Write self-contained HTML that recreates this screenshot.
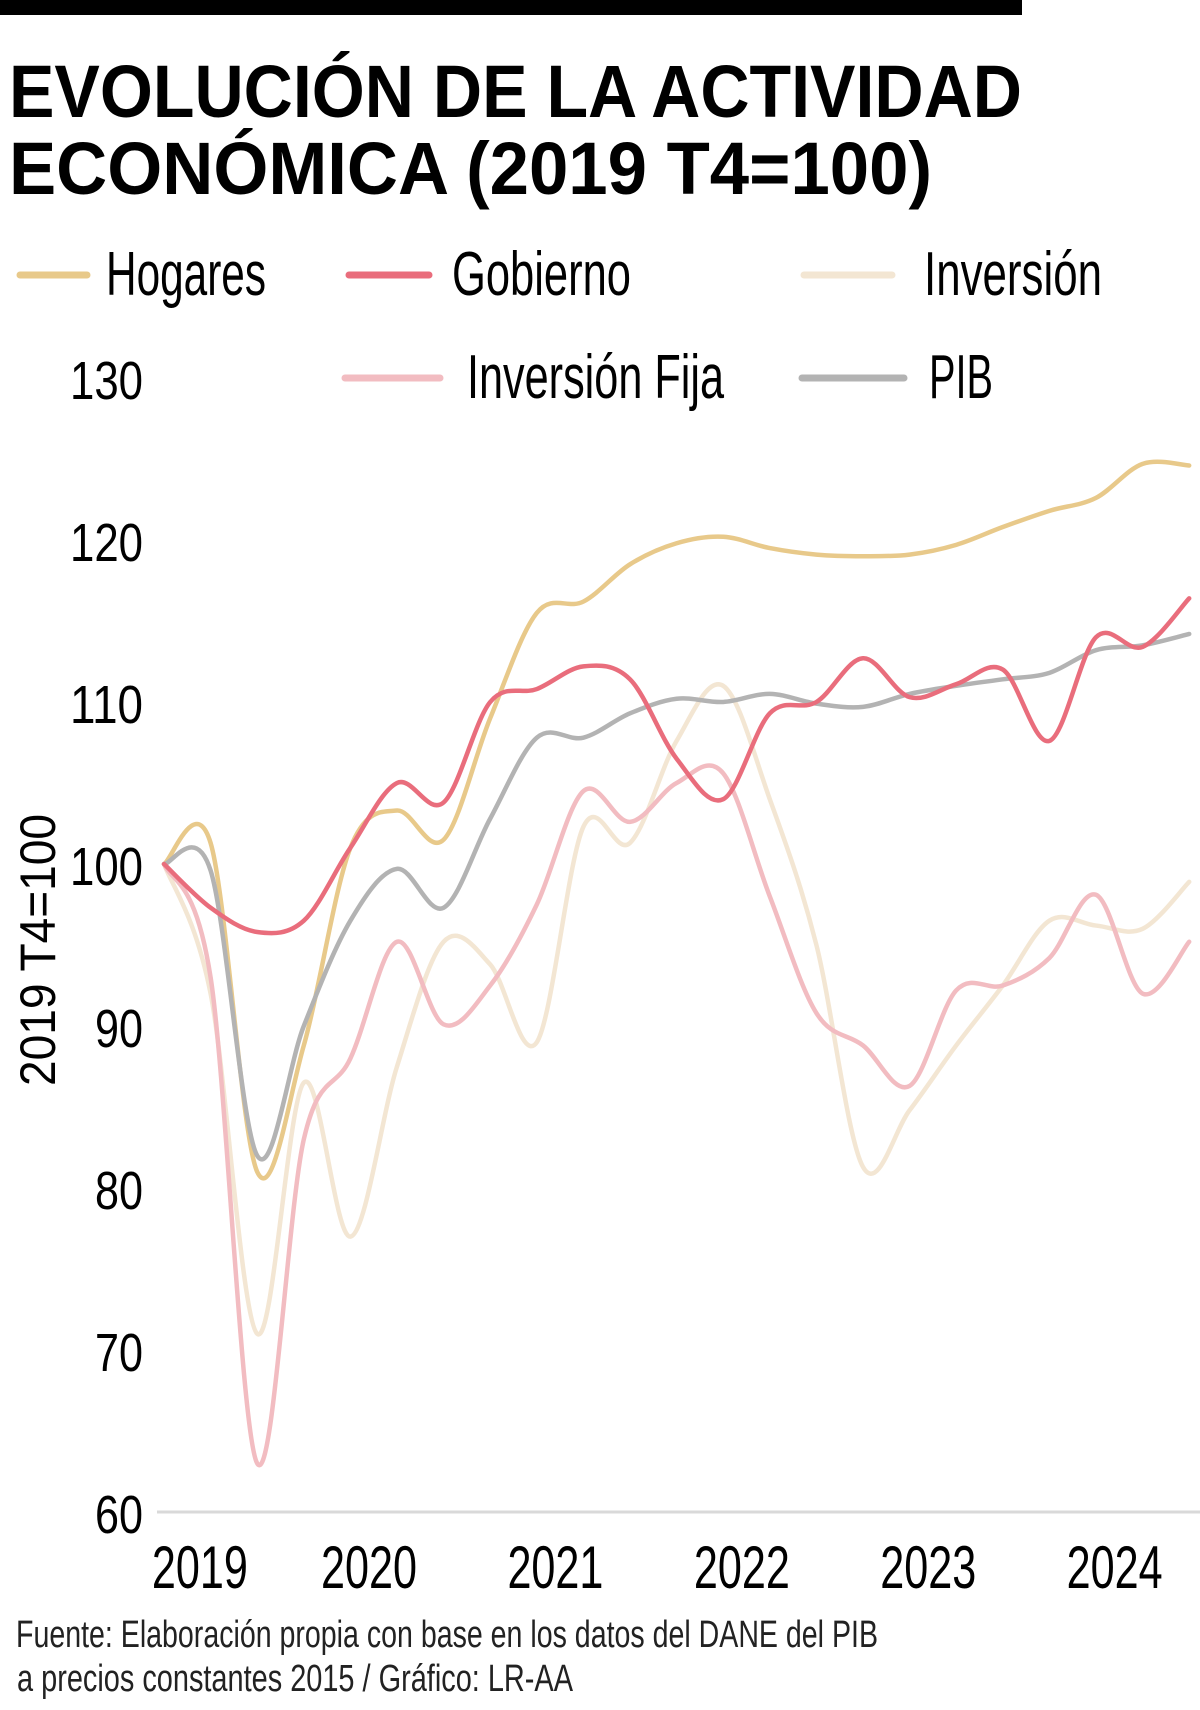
<!DOCTYPE html>
<html><head><meta charset="utf-8"><style>
html,body{margin:0;padding:0;background:#fff;}
svg{display:block;font-family:"Liberation Sans",sans-serif;}
</style></head><body>
<svg id="chart" width="1200" height="1710" viewBox="0 0 1200 1710">
<rect x="0" y="0" width="1022" height="15" fill="#000"/>
<text x="9" y="117" font-size="74" font-weight="bold" textLength="1013" lengthAdjust="spacingAndGlyphs">EVOLUCIÓN DE LA ACTIVIDAD</text>
<text x="9" y="194" font-size="74" font-weight="bold" textLength="923" lengthAdjust="spacingAndGlyphs">ECONÓMICA (2019 T4=100)</text>
<g id="legend"></g>
<g id="yaxis"></g>
<g id="xaxis"></g>
<g id="series"></g>
<text transform="translate(55,950) rotate(-90)" text-anchor="middle" font-size="50" textLength="272" lengthAdjust="spacingAndGlyphs">2019 T4=100</text>
<text x="16" y="1647" font-size="38" textLength="862" lengthAdjust="spacingAndGlyphs" fill="#222">Fuente: Elaboración propia con base en los datos del DANE del PIB</text>
<text x="17" y="1691" font-size="38" textLength="556" lengthAdjust="spacingAndGlyphs" fill="#222">a precios constantes 2015 / Gráfico: LR-AA</text>
</svg>
<script>
const hogares=[100,101.3,81,88.8,101,103.3,101.5,109,115.5,116.2,118.5,119.8,120.2,119.5,119.1,119,119.1,119.7,120.8,121.8,122.6,124.7,124.6];
const gobierno=[100,97.3,95.8,96.5,101,105,103.8,110,110.8,112.2,111.4,106.5,104,109.3,110,112.7,110.3,111.1,112,107.6,114,113.4,116.4];
const inversion=[100,92,71,86.5,77,87.5,95.2,93.8,89,102.3,101.3,107.6,111,104,95,81.3,84.8,88.8,92.5,96.5,96.2,96,98.9];
const inversionFija=[100,93,63,83,88,95.2,90.1,92.5,97.5,104.5,102.6,105,105.6,98,90.8,88.8,86.3,92.2,92.5,94.2,98.1,92,95.2];
const pib=[100,99.6,82,90,96.5,99.7,97.3,102.8,107.8,107.8,109.3,110.2,110,110.5,109.9,109.7,110.5,111,111.4,111.8,113.2,113.5,114.2];
const yTicks=[60,70,80,90,100,110,120,130];
const yearLabels=["2019","2020","2021","2022","2023","2024"];
const yearIdx=[0.77,4.4,8.4,12.4,16.4,20.4];
const seriesNames=["Hogares","Gobierno","Inversión","Inversión Fija","PIB"];

const NS="http://www.w3.org/2000/svg";
const xs=i=>164+i*46.6;
const ys=v=>1512-(v-60)*16.2;
function mk(tag,attrs,parent,txt){const e=document.createElementNS(NS,tag);for(const k in attrs)e.setAttribute(k,attrs[k]);if(txt!==undefined)e.textContent=txt;parent.appendChild(e);return e;}
const yg=document.getElementById('yaxis'),xg=document.getElementById('xaxis'),sg=document.getElementById('series'),lg=document.getElementById('legend');
const gl=mk('line',{x1:157,x2:1200,y1:ys(60),y2:ys(60),stroke:'#d9d9d9','stroke-width':3},yg);


yTicks.forEach(v=>{const t=mk('text',{x:143,y:ys(v)+21,'text-anchor':'end','font-size':54,textLength:v>=100?73:48,lengthAdjust:'spacingAndGlyphs'},yg,String(v));

});
yearLabels.forEach((l,k)=>{const t=mk('text',{x:xs(yearIdx[k]),y:1588,'text-anchor':'middle','font-size':60,textLength:96,lengthAdjust:'spacingAndGlyphs'},xg,l);

});
function path(d){const p=d.map((v,i)=>[xs(i),ys(v)]);let s='M'+p[0][0]+','+p[0][1];
for(let i=0;i<p.length-1;i++){const p0=p[Math.max(0,i-1)],p1=p[i],p2=p[i+1],p3=p[Math.min(p.length-1,i+2)];
const c1=[p1[0]+(p2[0]-p0[0])/6,p1[1]+(p2[1]-p0[1])/6],c2=[p2[0]-(p3[0]-p1[0])/6,p2[1]-(p3[1]-p1[1])/6];
s+=' C'+c1[0]+','+c1[1]+' '+c2[0]+','+c2[1]+' '+p2[0]+','+p2[1];}return s;}
const defs=[[inversion,'#f3e6d3','line-inversion'],[inversionFija,'#f2bcc1','line-inversion-fija'],[hogares,'#e8c98a','line-hogares'],[pib,'#b3b3b3','line-pib'],[gobierno,'#e96d7c','line-gobierno']];
defs.forEach(d=>{const p=mk('path',{d:path(d[0]),fill:'none',stroke:d[1],'stroke-width':4.5,'stroke-linecap':'round'},sg);

});
const leg=[[20,87,106,295,160,'#e8c98a'],[349,429,452,295,179,'#e96d7c'],[804,892,924,295,178,'#f3e6d3'],[345,440,467,398,257,'#f2bcc1'],[802,904,929,398,64,'#b3b3b3']];
leg.forEach((L,k)=>{const g=mk('g',{},lg);


mk('line',{x1:L[0],x2:L[1],y1:L[3]-20,y2:L[3]-20,stroke:L[5],'stroke-width':7,'stroke-linecap':'round'},g);
mk('text',{x:L[2],y:L[3],'font-size':62,textLength:L[4],lengthAdjust:'spacingAndGlyphs'},g,seriesNames[k]);});
</script>
</body></html>
